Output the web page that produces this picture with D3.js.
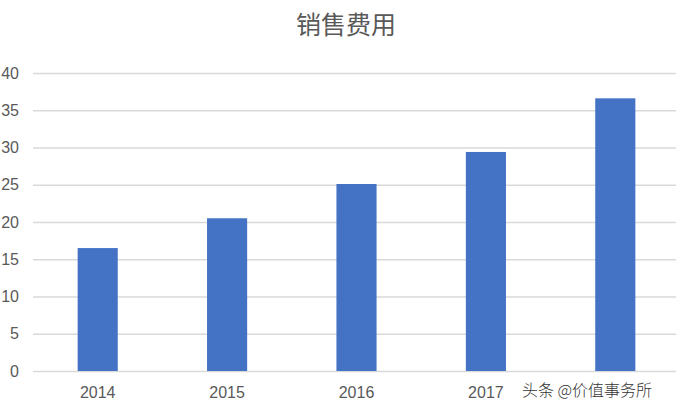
<!DOCTYPE html>
<html>
<head>
<meta charset="utf-8">
<script src="https://cdn.jsdelivr.net/npm/d3@7/dist/d3.min.js"></script>
<style>
  html, body { margin: 0; padding: 0; background: #fff; }
  svg { display: block; font-family: "Liberation Sans", Arial, sans-serif; }
</style>
</head>
<body>
<div id="chart"></div>
<script>
// ===== 销售费用 bar chart =====

const years  = ['2014', '2015', '2016', '2017', '2018'];
const values = [16.5, 20.5, 25.1, 29.4, 36.6];
const yTicks = [0, 5, 10, 15, 20, 25, 30, 35, 40];

const width = 676, height = 412;
const margin = { top: 73, right: -4, bottom: 41, left: 33 };

const svg = d3.select('#chart')
  .append('svg')
  .attr('width', width)
  .attr('height', height);

const x = d3.scaleBand()
  .domain(years)
  .range([margin.left, width - margin.right])
  .paddingInner(0.69)
  .paddingOuter(0.345);

const y = d3.scaleLinear()
  .domain([0, 40])
  .range([height - margin.bottom, margin.top]);

// Title
svg.append('text')
  .attr('x', 346)
  .attr('y', 34)
  .attr('text-anchor', 'middle')
  .attr('fill', '#595959')
  .style('font-family', '"Noto Sans CJK SC", sans-serif')
  .style('font-size', '25px')
  .text('销售费用');

// Gridlines
const yAxis = svg.append('g')
  .attr('transform', `translate(${margin.left},0)`)
  .call(d3.axisLeft(y).tickValues(yTicks).tickSize(-(width - margin.left)).tickPadding(14));

yAxis.select('.domain').remove();
yAxis.selectAll('.tick line')
  .attr('stroke', '#d9d9d9')
  .attr('stroke-width', 1.5);
yAxis.selectAll('.tick text')
  .attr('fill', '#595959')
  .style('font-size', '16px');

// Bars
svg.selectAll('.bar')
  .data(values)
  .enter()
  .append('rect')
  .attr('class', 'bar')
  .attr('x', (d, i) => x(years[i]))
  .attr('width', x.bandwidth())
  .attr('y', d => y(d))
  .attr('height', d => y(0) - y(d))
  .attr('fill', '#4472c4');

// X axis labels (last one sits under the watermark in the source image)
const lastYear = years[years.length - 1];
const xAxis = svg.append('g')
  .attr('transform', `translate(0,${y(0)})`)
  .call(d3.axisBottom(x).tickSize(0).tickPadding(16)
    .tickFormat(d => d === lastYear ? '' : d));

xAxis.select('.domain').remove();
xAxis.selectAll('.tick text')
  .attr('fill', '#595959')
  .style('font-size', '16px');

// Watermark
svg.append('text')
  .attr('x', 522)
  .attr('y', 396)
  .attr('fill', '#333')
  .style('font-family', '"Noto Sans CJK SC", sans-serif')
  .style('font-size', '16px')
  .style('font-weight', '300')
  .text('头条 @价值事务所');
</script>
</body>
</html>
